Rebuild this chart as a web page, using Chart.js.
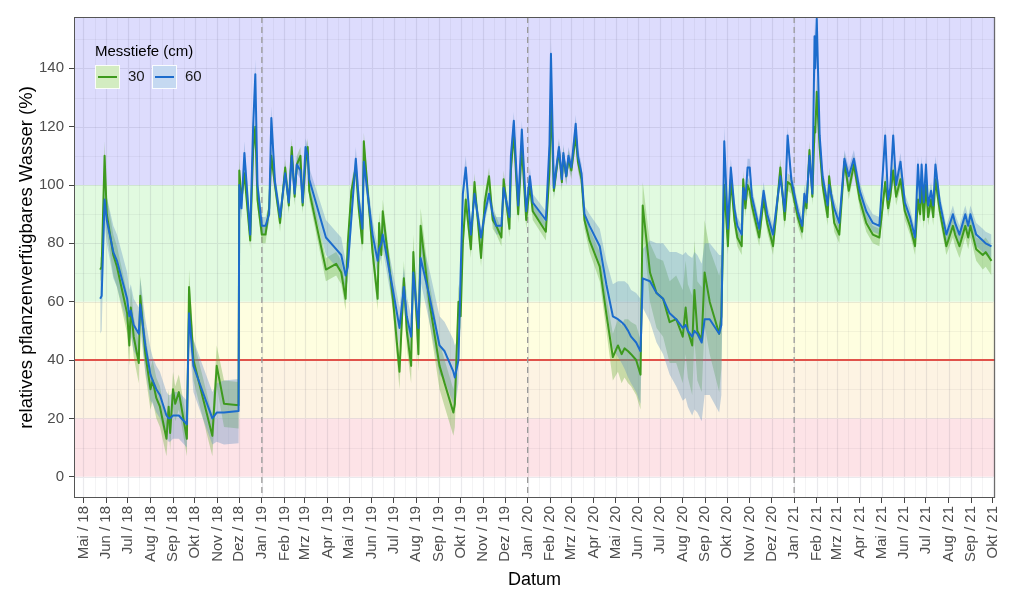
<!DOCTYPE html>
<html><head><meta charset="utf-8">
<script src="https://cdn.jsdelivr.net/npm/chart.js@4.4.1/dist/chart.umd.min.js"></script>
<style>html,body{margin:0;padding:0;background:#fff}canvas{display:block}</style>
</head><body>
<canvas id="c" width="1014" height="607"></canvas>
<script>
// ---------- data ----------
const dates = [
'2018-05-24','2018-05-26','2018-05-30','2018-06-02','2018-06-11','2018-06-16','2018-06-30','2018-07-03','2018-07-05','2018-07-09',
'2018-07-16','2018-07-18','2018-07-25','2018-08-01','2018-08-04','2018-08-09','2018-08-14','2018-08-23','2018-08-26','2018-08-28',
'2018-09-01','2018-09-04','2018-09-09','2018-09-20','2018-09-23','2018-09-29','2018-10-09','2018-10-25','2018-10-31','2018-11-10',
'2018-11-30','2018-12-01','2018-12-04','2018-12-08','2018-12-16','2018-12-20','2018-12-23','2018-12-26','2019-01-01','2019-01-06',
'2019-01-11','2019-01-14','2019-01-19','2019-01-26','2019-02-02','2019-02-07','2019-02-11','2019-02-15','2019-02-18','2019-02-23',
'2019-02-26','2019-03-02','2019-03-05','2019-03-07','2019-03-30','2019-04-13','2019-04-20','2019-04-26','2019-04-29','2019-05-04',
'2019-05-10','2019-05-14','2019-05-19','2019-05-21','2019-06-02','2019-06-09','2019-06-11','2019-06-14','2019-06-16','2019-06-30',
'2019-07-09','2019-07-15','2019-07-19','2019-07-25','2019-07-28','2019-08-04','2019-08-07','2019-08-19','2019-09-02','2019-09-09',
'2019-09-21','2019-09-23','2019-09-28','2019-10-01','2019-10-04','2019-10-08','2019-10-15','2019-10-20','2019-10-29','2019-11-03',
'2019-11-09','2019-11-14','2019-11-19','2019-11-26','2019-11-29','2019-12-07','2019-12-09','2019-12-13','2019-12-19','2019-12-24',
'2019-12-30','2020-01-04','2020-01-08','2020-01-26','2020-01-31','2020-02-02','2020-02-06','2020-02-13','2020-02-17','2020-02-19',
'2020-02-23','2020-02-26','2020-03-01','2020-03-07','2020-03-10','2020-03-15','2020-03-19','2020-03-26','2020-04-09','2020-04-18',
'2020-04-27','2020-05-04','2020-05-09','2020-05-13','2020-05-18','2020-05-22','2020-05-29','2020-06-04','2020-06-07','2020-06-17',
'2020-06-26','2020-07-05','2020-07-14','2020-07-23','2020-08-01','2020-08-05','2020-08-08','2020-08-14','2020-08-17','2020-08-21',
'2020-08-27','2020-08-31','2020-09-07','2020-09-20','2020-09-23','2020-09-27','2020-10-02','2020-10-06','2020-10-11','2020-10-15',
'2020-10-21','2020-10-23','2020-10-26','2020-10-29','2020-11-01','2020-11-04','2020-11-14','2020-11-20','2020-11-25','2020-12-03',
'2020-12-07','2020-12-13','2020-12-19','2020-12-23','2020-12-28','2021-01-06','2021-01-12','2021-01-15','2021-01-18','2021-01-22',
'2021-01-26','2021-01-29','2021-01-30','2021-02-01','2021-02-05','2021-02-09','2021-02-16','2021-02-18','2021-02-25','2021-03-04',
'2021-03-11','2021-03-17','2021-03-24','2021-04-01','2021-04-10','2021-04-19','2021-04-28','2021-05-06','2021-05-10','2021-05-13',
'2021-05-17','2021-05-21','2021-05-27','2021-06-02','2021-06-09','2021-06-16','2021-06-20','2021-06-23','2021-06-25','2021-06-28',
'2021-07-01','2021-07-04','2021-07-08','2021-07-11','2021-07-14','2021-07-20','2021-07-29','2021-08-07','2021-08-10','2021-08-16',
'2021-08-24','2021-08-28','2021-08-31','2021-09-08','2021-09-17','2021-09-21','2021-09-29'
];
// Messtiefe 30 cm
const depth30 = [
71,72,110,90,76,72,56,45,58,48,
39,62,42,30,33,27,24,13,24,15,
30,25,29,13,65,40,30,14,38,25,
24.5,105,95,104,81,112,120,95,83,83,
92,110,100,87,106,93,113,96,107,110,
93,108,113,98,71,73,70,61,80,98,
106,92,80,115,77,61,87,76,91,61,
36,68,50,38,77,42,86,60,38,32,
22,25,60,55,80,95,78,101,75,94,
103,88,86,82,102,85,105,118,90,113,
88,100,91,84,105,130,98,112,101,110,
103,109,105,117,108,102,88,81,72,56,
41,45,42,44,43,42,40,35,93,70,
63,61,53,54,48,58,50,45,64,50,
47,70,60,49,55,100,79,102,88,82,
79,102,92,100,98,93,82,95,87,79,
89,106,88,101,100,89,84,95,92,112,
96,120,118,132,113,100,89,103,87,83,
108,98,107,95,87,83,82,101,92,96,
105,96,102,91,86,79,95,90,100,88,
100,89,95,89,102,91,79,86,83,79,
86,82,86,78,76,77,74
];
// Messtiefe 60 cm
const depth60 = [
61,62,95,88,77,74,61,55,57,52,
49,59,45,35,33,30,28,21,20,20,
21,21,21,18,56,38,31,20,22,22,
22.5,100,92,111,83,120,138,100,86,86,
90,123,101,89,104,94,110,97,107,105,
94,113,110,102,82,78,76,69,72,89,
109,95,85,108,83,74,78,80,83,64,
51,65,55,48,70,51,75,62,45,43,
36,34,40,70,97,106,83,97,82,90,
97,90,86,86,99,89,110,122,93,119,
91,103,94,88,114,145,99,113,102,111,
103,110,106,121,110,104,90,86,79,66,
55,54,53,52,50,48,46,43,68,67,
63,61,56,54,51,52,50,48,50,49,
46,54,54,49,52,115,85,106,92,86,
83,99,95,106,106,96,85,98,90,83,
91,103,91,117,102,91,86,97,94,110,
97,151,140,157,117,103,93,100,92,87,
109,103,109,98,91,87,86,117,95,99,
117,100,108,94,89,82,107,94,107,94,
107,93,98,93,107,94,83,90,87,83,
90,86,90,83,81,80,79
];
// half-width of the uncertainty band (30 cm)
const spread30 = [
4,4,5,6,7,7,7,7,7,7,
7,7,7,7,7,7,7,6,6,6,
6,6,6,6,6,7,7,7,7,8,
8,4,3,3,3,3,4,3,3,3,
3,3,3,3,3,3,3,3,3,3,
3,3,3,3,4,4,4,4,4,3,
3,3,3,3,4,4,4,4,4,5,
6,6,6,6,6,6,6,7,8,8,
8,8,6,5,4,4,3,3,3,3,
3,3,3,3,3,3,3,3,3,3,
3,3,3,3,3,4,3,3,3,3,
3,3,3,3,3,3,3,4,5,6,
8,9,10,10,11,11,12,12,8,10,
12,13,14,15,16,16,16,17,17,17,
18,18,18,20,18,4,3,3,3,3,
3,3,3,3,3,3,3,3,3,3,
3,3,3,3,3,3,3,3,3,3,
3,4,4,5,3,3,3,3,3,3,
3,3,3,3,3,3,3,3,3,3,
3,3,3,3,3,3,3,3,3,3,
3,3,3,3,3,3,3,4,4,4,
4,4,4,4,5,5,5
];
// half-width of the uncertainty band (60 cm)
const spread60 = [
12,12,8,8,9,9,9,9,9,9,
9,9,9,9,8,8,8,8,8,8,
8,8,8,8,8,9,9,9,10,11,
11,5,4,4,3,4,5,3,3,3,
3,4,3,3,3,3,3,3,3,3,
3,3,3,4,6,6,6,5,5,4,
4,4,4,4,5,5,5,5,5,6,
7,7,7,7,7,7,8,9,10,10,
11,11,8,6,4,4,3,3,3,3,
3,3,3,3,3,3,3,3,3,3,
3,3,3,3,3,5,3,3,3,3,
3,3,3,3,3,3,3,4,6,8,
11,13,14,15,16,16,17,18,10,14,
17,19,21,23,25,25,26,27,27,27,
27,26,26,27,24,5,3,3,3,3,
3,3,3,3,3,3,3,3,3,3,
3,3,3,3,3,3,3,3,3,3,
3,5,5,6,3,3,3,3,3,3,
3,3,3,3,3,3,3,3,3,3,
3,3,3,3,3,3,3,3,3,3,
3,3,3,3,3,3,3,3,3,3,
3,3,3,4,4,4,4
];
const seriesNames = ['30','60'];
const legendTitle = 'Messtiefe (cm)';
const xTitle = 'Datum';
const yTitle = 'relatives pflanzenverfügbares Wasser (%)';
const xTickDates = [
'2018-05-01','2018-06-01','2018-07-01','2018-08-01','2018-09-01','2018-10-01','2018-11-01','2018-12-01',
'2019-01-01','2019-02-01','2019-03-01','2019-04-01','2019-05-01','2019-06-01','2019-07-01','2019-08-01','2019-09-01','2019-10-01','2019-11-01','2019-12-01',
'2020-01-01','2020-02-01','2020-03-01','2020-04-01','2020-05-01','2020-06-01','2020-07-01','2020-08-01','2020-09-01','2020-10-01','2020-11-01','2020-12-01',
'2021-01-01','2021-02-01','2021-03-01','2021-04-01','2021-05-01','2021-06-01','2021-07-01','2021-08-01','2021-09-01','2021-10-01'
];
const xTickLabels = [
'Mai / 18','Jun / 18','Jul / 18','Aug / 18','Sep / 18','Okt / 18','Nov / 18','Dez / 18',
'Jan / 19','Feb / 19','Mrz / 19','Apr / 19','Mai / 19','Jun / 19','Jul / 19','Aug / 19','Sep / 19','Okt / 19','Nov / 19','Dez / 19',
'Jan / 20','Feb / 20','Mrz / 20','Apr / 20','Mai / 20','Jun / 20','Jul / 20','Aug / 20','Sep / 20','Okt / 20','Nov / 20','Dez / 20',
'Jan / 21','Feb / 21','Mrz / 21','Apr / 21','Mai / 21','Jun / 21','Jul / 21','Aug / 21','Sep / 21','Okt / 21'
];
const xRange = ['2018-04-18','2021-10-04'];
const yRange = [-7.3, 157.6];
const yTicks = [0,20,40,60,80,100,120,140];
const yMinorTicks = [10,30,50,70,90,110,130,150];
const bandBreaks = [0,20,40,60,100,170];
const thresholdValue = 40;
const yearStarts = ['2019-01-01','2020-01-01','2021-01-01'];

// ---------- styles ----------
const FONT = '"Liberation Sans", Arial, Helvetica, sans-serif';
const bandColors = ['#fde3e7','#fdf3e3','#fefee0','#e1fae0','#dddcfd'];
const lineColors = ['#3e9a1e','#1c6ccc'];
const ribbonColors = ['rgba(105,175,60,0.36)','rgba(95,145,195,0.36)'];
const keyColors = ['#d3ecc1','#c5d9f1'];

const dayOf = s => { const [y,m,d] = s.split('-').map(Number); return Date.UTC(y,m-1,d)/86400000; };
const series = (vals, off, sign) => dates.map((d,i) => ({x: dayOf(d), y: off ? vals[i] + sign*off[i] : vals[i]}));

const panelPlugin = {
  id: 'panel',
  beforeDatasetsDraw(chart) {
    const {ctx, chartArea: a, scales: {x, y}} = chart;
    ctx.save();
    ctx.beginPath(); ctx.rect(a.left, a.top, a.right - a.left, a.bottom - a.top); ctx.clip();
    ctx.fillStyle = '#fff';
    ctx.fillRect(a.left, a.top, a.right - a.left, a.bottom - a.top);
    for (let i = 0; i < bandColors.length; i++) {
      const t = y.getPixelForValue(bandBreaks[i+1]), b = y.getPixelForValue(bandBreaks[i]);
      ctx.fillStyle = bandColors[i];
      ctx.fillRect(a.left, t, a.right - a.left, b - t);
    }
    // minor grid
    ctx.strokeStyle = 'rgba(60,60,90,0.06)'; ctx.lineWidth = 1;
    ctx.beginPath();
    for (let i = 0; i < xTickDates.length - 1; i++) {
      const px = Math.round(x.getPixelForValue((dayOf(xTickDates[i]) + dayOf(xTickDates[i+1])) / 2)) + 0.5;
      ctx.moveTo(px, a.top); ctx.lineTo(px, a.bottom);
    }
    yMinorTicks.forEach(v => { const py = Math.round(y.getPixelForValue(v)) + 0.5; ctx.moveTo(a.left, py); ctx.lineTo(a.right, py); });
    ctx.stroke();
    // major grid
    ctx.strokeStyle = 'rgba(60,60,90,0.11)'; ctx.lineWidth = 1.2;
    ctx.beginPath();
    xTickDates.forEach(d => { const px = Math.round(x.getPixelForValue(dayOf(d))) + 0.5; ctx.moveTo(px, a.top); ctx.lineTo(px, a.bottom); });
    yTicks.forEach(v => { const py = Math.round(y.getPixelForValue(v)) + 0.5; ctx.moveTo(a.left, py); ctx.lineTo(a.right, py); });
    ctx.stroke();
    // threshold line
    ctx.strokeStyle = '#e0524a'; ctx.lineWidth = 2;
    ctx.beginPath();
    const ty = y.getPixelForValue(thresholdValue);
    ctx.moveTo(a.left, ty); ctx.lineTo(a.right, ty); ctx.stroke();
    // year lines
    ctx.strokeStyle = '#9a9a9a'; ctx.lineWidth = 1.3; ctx.setLineDash([6, 4]);
    ctx.beginPath();
    yearStarts.forEach(d => { const px = x.getPixelForValue(dayOf(d)); ctx.moveTo(px, a.top); ctx.lineTo(px, a.bottom); });
    ctx.stroke();
    ctx.restore();
  },
  afterDraw(chart) {
    const {ctx, chartArea: a} = chart;
    ctx.save();
    ctx.strokeStyle = '#555'; ctx.lineWidth = 1;
    ctx.strokeRect(a.left + 0.5, a.top + 0.5, a.right - a.left - 1, a.bottom - a.top - 1);
    // legend
    ctx.fillStyle = '#000';
    ctx.font = '15px ' + FONT;
    ctx.textBaseline = 'middle'; ctx.textAlign = 'left';
    ctx.fillText(legendTitle, a.left + 21, 52);
    const keyX = [a.left + 21, a.left + 78];
    seriesNames.forEach((name, i) => {
      const kx = keyX[i], ky = 65;
      ctx.fillStyle = keyColors[i];
      ctx.fillRect(kx, ky, 25, 24);
      ctx.strokeStyle = 'rgba(255,255,255,0.9)'; ctx.lineWidth = 1;
      ctx.strokeRect(kx + 0.5, ky + 0.5, 24, 23);
      ctx.strokeStyle = lineColors[i]; ctx.lineWidth = 2;
      ctx.beginPath(); ctx.moveTo(kx + 3, ky + 12); ctx.lineTo(kx + 22, ky + 12); ctx.stroke();
      ctx.fillStyle = '#1a1a1a';
      ctx.fillText(name, kx + 33, ky + 12);
    });
    ctx.restore();
  }
};

const lineBase = {pointRadius: 0, tension: 0, borderJoinStyle: 'round'};
new Chart(document.getElementById('c'), {
  type: 'line',
  data: {
    datasets: [
      {...lineBase, label: 'lo30', data: series(depth30, spread30, -1), borderWidth: 0, fill: false, order: 6},
      {...lineBase, label: 'hi30', data: series(depth30, spread30, 1), borderWidth: 0, fill: 0, backgroundColor: ribbonColors[0], order: 5},
      {...lineBase, label: 'lo60', data: series(depth60, spread60, -1), borderWidth: 0, fill: false, order: 4},
      {...lineBase, label: 'hi60', data: series(depth60, spread60, 1), borderWidth: 0, fill: 2, backgroundColor: ribbonColors[1], order: 3},
      {...lineBase, label: seriesNames[0], data: series(depth30), borderColor: lineColors[0], borderWidth: 2, fill: false, order: 2},
      {...lineBase, label: seriesNames[1], data: series(depth60), borderColor: lineColors[1], borderWidth: 2, fill: false, order: 1}
    ]
  },
  options: {
    responsive: false,
    animation: false,
    devicePixelRatio: 1,
    layout: {padding: {top: 17, right: 18, left: 0, bottom: 0}},
    plugins: {legend: {display: false}, tooltip: {enabled: false}},
    scales: {
      x: {
        type: 'linear',
        min: dayOf(xRange[0]), max: dayOf(xRange[1]),
        afterBuildTicks: s => { s.ticks = xTickDates.map(d => ({value: dayOf(d)})); },
        afterFit: s => { s.height = 109; },
        ticks: {autoSkip: false, maxRotation: 90, minRotation: 90, padding: 3,
                callback: (v, i) => xTickLabels[i], color: '#4d4d4d', font: {family: FONT, size: 15}},
        grid: {drawOnChartArea: false, drawTicks: true, tickLength: 5, color: '#444', lineWidth: 1},
        border: {display: false},
        title: {display: true, text: xTitle, color: '#000', font: {family: FONT, size: 18}, padding: {top: 0, bottom: 16}}
      },
      y: {
        type: 'linear',
        min: yRange[0], max: yRange[1],
        afterBuildTicks: s => { s.ticks = yTicks.map(v => ({value: v})); },
        afterFit: s => { s.width = 74; },
        ticks: {padding: 5, color: '#4d4d4d', font: {family: FONT, size: 15}},
        grid: {drawOnChartArea: false, drawTicks: true, tickLength: 5, color: '#444', lineWidth: 1},
        border: {display: false},
        title: {display: true, text: yTitle, color: '#000', font: {family: FONT, size: 18.5}, padding: {top: 16, bottom: 0}}
      }
    }
  },
  plugins: [panelPlugin]
});
</script>
</body></html>
